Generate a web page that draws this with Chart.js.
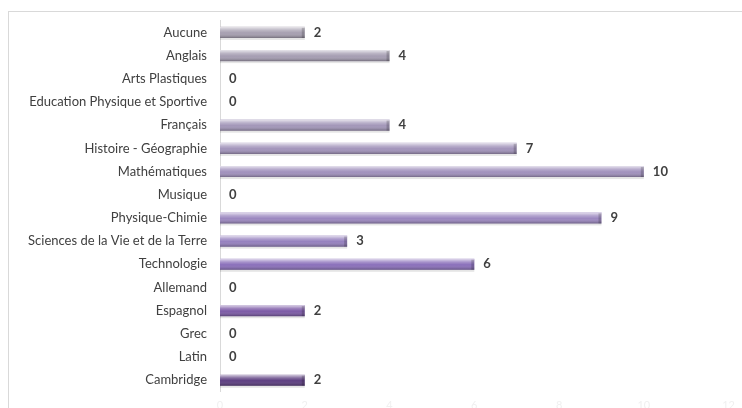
<!DOCTYPE html>
<html>
<head>
<meta charset="utf-8">
<script src="https://cdn.jsdelivr.net/npm/chart.js@4"></script>
<style>
  html, body { margin: 0; padding: 0; background: #fff; overflow: hidden; }
  #wrap { position: relative; width: 742px; height: 419px; }
  #frame { position: absolute; left: 8px; top: 11px; width: 800px; height: 500px; border: 1px solid #d9d9d9; }
</style>
</head>
<body>
<div id="wrap">
  <div id="frame"></div>
  <canvas id="chart" width="742" height="419"></canvas>
</div>
<script>
// data
var matieres = [
    'Aucune',
    'Anglais',
    'Arts Plastiques',
    'Education Physique et Sportive',
    'Français',
    'Histoire - Géographie',
    'Mathématiques',
    'Musique',
    'Physique-Chimie',
    'Sciences de la Vie et de la Terre',
    'Technologie',
    'Allemand',
    'Espagnol',
    'Grec',
    'Latin',
    'Cambridge'
];
var nombres = [2, 4, 0, 0, 4, 7, 10, 0, 9, 3, 6, 0, 2, 0, 0, 2];
var ticks_x = [0, 2, 4, 6, 8, 10, 12];

// couleurs des barres, du haut vers le bas
var couleurs = [
    '#a69fb0', '#a59db2', '#a49ab4', '#a398b6',
    '#a296b8', '#a193ba', '#a090bc', '#9e8cbe',
    '#9c88c0', '#9580be', '#8a6fba', '#8466b2',
    '#7c5aa6', '#72509a', '#68468e', '#5c3d80'
];

// effet "cylindre" sur les barres + valeurs au bout
var reliefPlugin = {
    id: 'relief',
    afterDatasetsDraw: function(chart) {
        var ctx = chart.ctx;
        var meta = chart.getDatasetMeta(0);
        meta.data.forEach(function(bar, i) {
            var p = bar.getProps(['x', 'y', 'base', 'height'], true);
            var top = p.y - p.height / 2;
            var bottom = p.y + p.height / 2;
            var w = p.x - p.base;
            if (w > 0) {
                ctx.save();
                var g = ctx.createLinearGradient(0, top, 0, bottom);
                g.addColorStop(0, 'rgba(255,255,255,0.75)');
                g.addColorStop(0.3, 'rgba(255,255,255,0.25)');
                g.addColorStop(0.55, 'rgba(255,255,255,0)');
                g.addColorStop(1, 'rgba(0,0,0,0.30)');
                ctx.fillStyle = g;
                ctx.fillRect(p.base, top, w, p.height);
                // bout de la barre
                ctx.fillStyle = 'rgba(0,0,0,0.18)';
                ctx.fillRect(p.x - 3, top + 1, 3, p.height - 1);
                // ombre sous la barre
                ctx.fillStyle = 'rgba(0,0,0,0.10)';
                ctx.fillRect(p.base, bottom, w, 2);
                ctx.restore();
            }
            ctx.save();
            ctx.font = 'bold 13px Lato';
            ctx.fillStyle = '#404040';
            ctx.textBaseline = 'middle';
            ctx.textAlign = 'left';
            ctx.fillText(nombres[i], p.x + 9, p.y);
            ctx.restore();
        });
    }
};

var ctx = document.getElementById('chart').getContext('2d');
var chart = new Chart(ctx, {
    type: 'bar',
    data: {
        labels: matieres,
        datasets: [{
            data: nombres,
            backgroundColor: couleurs,
            borderWidth: 0,
            barPercentage: 0.48,
            categoryPercentage: 1
        }]
    },
    options: {
        indexAxis: 'y',
        responsive: false,
        animation: false,
        layout: { padding: { top: 18, right: 13, left: 0, bottom: 0 } },
        plugins: {
            legend: { display: false },
            tooltip: { enabled: false }
        },
        scales: {
            x: {
                min: 0,
                max: 12,
                afterBuildTicks: function(scale) {
                    scale.ticks = ticks_x.map(function(v) { return { value: v }; });
                },
                grid: { display: false, drawTicks: false },
                border: { display: false },
                ticks: {
                    color: '#f0f0f0',
                    font: { family: 'Lato', size: 11 },
                    padding: 7,
                    maxRotation: 0
                }
            },
            y: {
                afterFit: function(scale) { scale.width = 220; },
                grid: { display: false, drawTicks: false },
                border: { display: true, color: '#d9d9d9' },
                ticks: {
                    color: '#404040',
                    font: { family: 'Lato', size: 13 },
                    padding: 13
                }
            }
        }
    },
    plugins: [reliefPlugin]
});
</script>
</body>
</html>
